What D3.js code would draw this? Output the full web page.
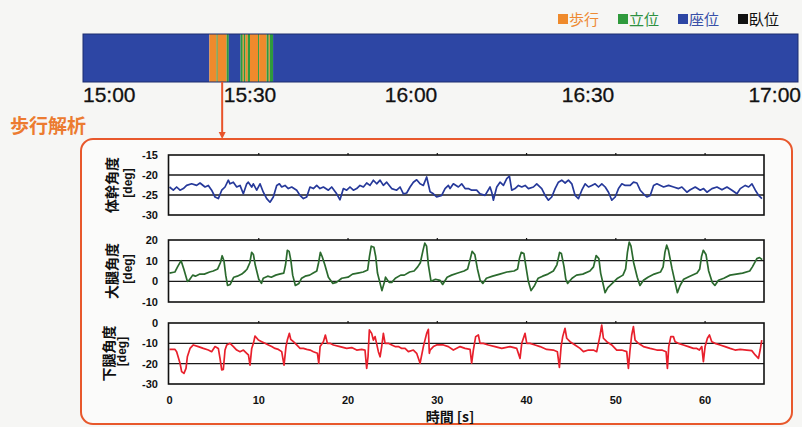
<!DOCTYPE html>
<html>
<head>
<meta charset="utf-8">
<script src="https://cdn.jsdelivr.net/npm/d3@7"></script>
<style>
html, body { margin:0; padding:0; background:#f6f6f4; }
svg { display:block; font-family:"Liberation Sans Narrow","Liberation Sans",sans-serif; }
.jp { font-family:"Noto Sans CJK JP", sans-serif; }
.deg { font-family:"Liberation Sans", sans-serif; }
</style>
</head>
<body>
<svg id="cnv" width="802" height="427"></svg>
<script>
// activity states (legend order)
var stateNames = ["歩行", "立位", "座位", "臥位"];
var stateColors = ["#ef8a2c", "#2f9a3c", "#2d46a4", "#111111"];
var stateTextColors = ["#ee8a33", "#2d9140", "#3850a8", "#111111"];

// timeline: minutes after 15:00
var timeTickLabels = ["15:00", "15:30", "16:00", "16:30", "17:00"];
var timeTickMin = [0, 30, 60, 90, 120];
var segStart = [0, 22.7, 24.0, 24.2, 25.8, 26.2, 28.3, 28.7, 28.9, 29.2, 29.6, 30.0, 31.5, 31.7, 33.1, 33.5, 33.7, 34.3];
var segState = [2, 0, 1, 0, 1, 2, 1, 0, 1, 0, 1, 0, 1, 0, 1, 0, 1, 2];
var segEndMin = 120;
var analysedMin = 25;

// gait analysis: [time s, angle deg]
var trunkAngle = [[0,-23.0],[0.43,-23.8],[0.80,-23.0],[1.18,-23.8],[1.55,-23.4],[1.92,-22.6],[2.48,-22.2],[3.04,-22.6],[3.42,-22.0],[3.98,-23.0],
	[4.35,-22.6],[4.72,-23.8],[5.10,-25.5],[5.47,-25.9],[5.85,-23.8],[6.22,-23.0],[6.59,-21.3],[6.78,-22.2],[7.15,-21.8],[7.53,-23.0],
	[7.90,-22.6],[8.27,-24.7],[8.65,-22.2],[8.83,-21.8],[9.21,-23.0],[9.39,-22.2],[9.77,-23.8],[10.14,-22.2],[10.51,-24.3],[10.89,-25.9],
	[11.26,-26.8],[11.63,-25.5],[12.01,-22.6],[12.31,-22.2],[12.57,-23.0],[12.94,-22.6],[13.31,-23.4],[13.69,-23.0],[14.25,-23.8],[14.62,-25.1],
	[15.00,-25.9],[15.37,-25.5],[15.74,-23.0],[16.12,-23.4],[16.49,-22.6],[16.86,-23.4],[17.24,-23.0],[17.80,-23.8],[18.17,-23.0],[18.73,-24.7],
	[19.10,-26.2],[19.48,-23.4],[19.85,-23.8],[20.22,-23.0],[20.60,-23.8],[20.97,-23.4],[21.34,-22.6],[21.72,-23.0],[22.09,-22.0],[22.46,-22.6],
	[22.84,-21.3],[23.21,-22.2],[23.59,-21.3],[23.96,-22.6],[24.33,-21.8],[24.89,-23.4],[25.45,-23.8],[25.83,-23.0],[26.20,-24.7],[26.57,-24.5],
	[26.95,-23.0],[27.32,-21.8],[27.69,-21.2],[28.07,-22.2],[28.44,-22.6],[28.81,-20.5],[29.19,-24.2],[29.56,-24.7],[29.93,-25.5],[30.49,-25.1],
	[30.87,-23.4],[31.24,-22.6],[31.43,-23.4],[31.80,-22.2],[32.36,-23.0],[32.73,-22.2],[33.11,-23.4],[33.48,-23.4],[33.85,-23.8],[34.41,-23.8],
	[34.79,-24.7],[35.35,-25.1],[35.91,-23.0],[36.10,-24.3],[36.28,-26.3],[36.66,-23.0],[37.03,-21.8],[37.41,-22.6],[37.78,-20.9],[38.08,-20.3],
	[38.34,-23.8],[38.71,-23.4],[39.09,-22.6],[39.46,-23.0],[39.84,-22.6],[40.21,-23.4],[40.77,-23.0],[41.14,-22.2],[41.70,-23.4],[42.08,-25.1],
	[42.45,-26.3],[42.82,-25.5],[43.20,-23.4],[43.57,-21.8],[43.94,-21.3],[44.32,-22.0],[44.69,-21.3],[45.07,-22.2],[45.44,-25.1],[45.81,-25.9],
	[46.19,-23.8],[46.56,-22.2],[46.94,-23.0],[47.31,-22.6],[47.68,-22.2],[48.06,-23.0],[48.43,-22.2],[48.81,-23.0],[49.18,-24.3],[49.55,-26.3],
	[49.93,-25.5],[50.30,-23.4],[50.68,-22.2],[51.05,-22.6],[51.61,-22.6],[51.98,-21.8],[52.36,-22.0],[52.73,-23.8],[53.10,-24.7],[53.48,-25.5],
	[53.85,-25.1],[54.23,-22.6],[54.60,-22.2],[55.35,-23.0],[55.91,-22.6],[56.47,-23.0],[57.03,-23.4],[57.40,-23.0],[57.96,-24.3],[58.34,-23.7],
	[58.90,-23.0],[59.46,-23.8],[59.83,-23.4],[60.21,-24.3],[60.77,-23.4],[61.33,-23.0],[61.89,-23.7],[62.45,-23.0],[63.01,-23.8],[63.57,-24.7],
	[63.94,-23.4],[64.50,-22.6],[64.88,-23.0],[65.25,-22.2],[65.63,-23.8],[66.00,-25.1],[66.37,-25.9]];

var thighAngle = [[0,4],[0.6,4.5],[0.9,7],[1.3,10],[1.6,6],[2.0,0],[2.2,0.5],[2.6,3],[2.9,2.5],[3.4,3.5],[3.9,3.5],[4.5,4.5],[4.9,5],
	[5.4,6],[5.7,9],[5.9,12.4],[6.1,10],[6.3,3],[6.5,-2],[6.8,-1.5],[7.2,2],[7.6,2.5],[8.1,3.5],[8.5,5],[8.7,6],[9.0,9],[9.2,14],
	[9.4,13],[9.6,8],[10.0,1],[10.3,-1],[10.5,1.5],[11.0,2.5],[11.4,2],[11.9,3],[12.3,3.5],[12.8,4],[13.0,8],[13.2,15],[13.4,14.5],
	[13.6,10],[13.8,3],[14.1,-2],[14.5,-1],[14.8,1.5],[15.2,2.5],[15.7,3],[16.1,4],[16.5,5],[16.7,9],[16.9,14],[17.1,12],[17.4,8],
	[17.8,2],[18.3,-1],[18.7,-0.5],[19.3,1.5],[20.0,2],[20.5,3.5],[21.1,4],[21.7,4.5],[22.2,5.5],[22.4,12],[22.6,17],[22.9,16.5],
	[23.1,12],[23.3,4],[23.8,-4.5],[24.1,0],[24.2,2],[24.6,-0.5],[24.9,-0.5],[25.3,1.5],[25.9,3],[26.3,3],[26.9,4.5],[27.4,5],
	[27.8,7],[28.1,9],[28.4,15],[28.6,18.5],[28.8,17],[29.0,8],[29.3,0],[29.8,1],[30.3,0.5],[30.6,-1.5],[31.1,2],[31.6,3],[32.3,4],
	[33.0,5],[33.4,6],[33.7,11],[33.9,14.5],[34.2,13],[34.5,6],[34.8,0.5],[35.1,-1],[35.5,1.5],[36.2,2.5],[37.0,3.5],[37.8,4.5],
	[38.6,5],[39.0,6],[39.2,11],[39.4,14],[39.7,13.5],[39.9,8],[40.2,0],[40.5,-4.5],[40.9,-2],[41.3,1.5],[41.8,2.5],[42.4,3.5],
	[43.0,5],[43.4,8],[43.7,14],[43.9,13.5],[44.2,7],[44.4,1],[44.6,-1],[45.1,1.5],[45.6,3],[46.3,3.5],[47.1,5],[47.5,7],[47.8,12.5],
	[48.1,11],[48.3,4],[48.8,-5.5],[49.1,-3],[49.6,-1],[50.2,1.5],[50.8,3],[51.1,6],[51.3,14],[51.5,19],[51.7,17],[52.0,9],[52.4,2],
	[52.7,-2],[53.1,0.5],[53.6,2],[54.3,3.5],[55.0,4.5],[55.3,7],[55.5,14],[55.7,17.5],[55.9,15],[56.3,6],[56.9,-5.5],[57.2,-2],
	[57.6,1],[58.3,2.5],[59.1,4],[59.4,6],[59.6,12],[59.8,15],[60.1,13],[60.4,5],[60.8,-0.5],[61.1,-2],[61.5,0.5],[62.1,1.5],
	[62.8,3],[63.5,3.5],[64.2,4],[65.0,5],[65.3,7],[65.8,11],[66.1,11.5],[66.4,10.5]];

var shankAngle = [[0,-13.0],[0.62,-13.0],[0.80,-14.1],[1.18,-19.8],[1.36,-23.9],[1.62,-24.8],[1.85,-22.3],[2.00,-16.6],[2.30,-12.5],[2.67,-10.8],
	[3.23,-11.6],[3.79,-12.5],[4.35,-13.3],[4.72,-14.1],[5.10,-11.6],[5.47,-12.5],[5.66,-17.4],[5.85,-23.1],[6.03,-22.8],[6.22,-13.3],
	[6.41,-10.8],[6.78,-10.0],[7.16,-11.6],[7.53,-13.3],[7.90,-14.1],[8.28,-13.3],[8.65,-14.9],[8.84,-15.7],[9.02,-20.7],[9.21,-12.5],
	[9.40,-10.0],[9.58,-6.4],[9.96,-8.4],[10.33,-9.2],[10.70,-10.0],[11.08,-10.8],[11.45,-11.6],[11.82,-12.5],[12.20,-13.0],[12.57,-14.1],
	[12.83,-20.7],[13.05,-11.6],[13.20,-8.4],[13.43,-5.1],[13.58,-8.0],[13.88,-9.2],[14.25,-10.8],[14.63,-12.5],[15.00,-12.5],[15.37,-13.0],
	[15.75,-13.3],[16.12,-14.1],[16.57,-14.9],[16.72,-19.8],[16.87,-11.6],[17.24,-9.2],[17.46,-5.9],[17.69,-10.0],[17.98,-10.0],[18.36,-10.8],
	[19.10,-11.6],[19.85,-12.5],[20.41,-12.1],[20.97,-13.3],[21.53,-13.0],[21.90,-13.3],[22.09,-22.3],[22.24,-16.6],[22.39,-3.4],[22.65,-5.1],
	[22.84,-8.4],[23.03,-6.7],[23.40,-14.1],[23.59,-16.6],[23.77,-11.6],[23.96,-5.1],[24.15,-10.0],[24.52,-10.0],[24.90,-10.8],[25.27,-11.6],
	[25.64,-11.6],[26.02,-12.5],[26.39,-12.5],[26.76,-14.1],[27.32,-13.3],[27.69,-14.9],[28.07,-19.8],[28.44,-11.6],[28.81,-5.1],[29.00,-3.1],
	[29.11,-14.9],[29.19,-13.3],[29.56,-11.6],[29.93,-10.8],[30.68,-10.8],[31.24,-11.6],[31.80,-13.3],[32.55,-11.6],[33.11,-12.5],[33.67,-13.0],
	[33.85,-19.8],[34.04,-13.3],[34.30,-6.7],[34.60,-5.9],[34.79,-10.0],[35.16,-10.0],[35.72,-10.8],[36.47,-11.6],[37.22,-12.5],[38.15,-11.6],
	[38.90,-12.5],[39.27,-17.4],[39.46,-10.0],[39.83,-5.1],[40.02,-10.0],[40.39,-10.0],[40.95,-10.8],[41.51,-11.6],[42.26,-13.0],[43.00,-13.3],
	[43.45,-14.1],[43.68,-21.8],[43.87,-11.6],[44.05,-6.7],[44.31,-2.6],[44.50,-7.5],[44.87,-9.2],[45.43,-10.8],[45.99,-12.5],[46.37,-14.1],
	[46.93,-13.3],[47.49,-13.3],[47.86,-14.1],[48.05,-10.0],[48.24,-5.9],[48.42,-1.0],[48.61,-7.5],[48.99,-9.2],[49.54,-10.8],[50.10,-13.3],
	[50.66,-13.3],[51.22,-14.1],[51.41,-22.3],[51.59,-13.3],[51.78,-5.9],[51.97,-1.8],[52.16,-8.4],[52.53,-10.0],[53.09,-11.6],[53.84,-12.5],
	[54.59,-13.3],[55.15,-13.3],[55.63,-14.1],[55.78,-22.3],[55.93,-11.6],[56.16,-6.7],[56.45,-6.7],[56.64,-9.2],[57.01,-10.0],[57.57,-10.8],
	[58.13,-11.6],[58.69,-12.5],[59.07,-12.5],[59.36,-13.3],[59.63,-11.6],[59.81,-19.0],[60.00,-11.6],[60.26,-7.5],[60.49,-5.9],[60.75,-9.2],
	[61.12,-10.0],[61.68,-10.8],[62.24,-11.6],[62.80,-12.5],[63.36,-13.3],[63.93,-13.0],[64.67,-13.3],[65.23,-13.6],[65.61,-15.7],[65.98,-17.4],
	[66.17,-13.3],[66.35,-8.4]];

var xTicks = [0, 10, 20, 30, 40, 50, 60];
var xLabel = "時間 [s]";
var sectionTitle = "歩行解析";

var panels = [
	{data: trunkAngle, name: "体幹角度", domain: [-30, -15], ticks: [-15, -20, -25, -30], grid: [-20, -25], color: "#26399a", top: 155, bottom: 215},
	{data: thighAngle, name: "大腿角度", domain: [-10, 20], ticks: [20, 10, 0, -10], grid: [10, 0], color: "#2b6a2e", top: 240, bottom: 302},
	{data: shankAngle, name: "下腿角度", domain: [-30, 0], ticks: [0, -10, -20, -30], grid: [-10, -20], color: "#e8202c", top: 323, bottom: 384}
];

var svg = d3.select("#cnv");

// legend
var legend = svg.selectAll("g.leg")
	.data(stateNames)
	.enter()
	.append("g")
	.attr("class", "leg")
	.attr("transform", function (d, i) { return "translate(" + (558 + i * 60) + ",0)"; });
legend.append("rect")
	.attr("x", 0).attr("y", 14).attr("width", 10).attr("height", 10)
	.attr("fill", function (d, i) { return stateColors[i]; });
legend.append("text")
	.attr("class", "jp")
	.attr("x", 11).attr("y", 25)
	.attr("font-size", "15px")
	.attr("fill", function (d, i) { return stateTextColors[i]; })
	.text(function (d) { return d; });

// timeline bar
var tx = d3.scaleLinear().domain(timeTickMin).range([83, 250, 411, 588, 798]);
var segs = segStart.map(function (s, i) {
	return {from: s, to: (i < segStart.length - 1 ? segStart[i + 1] : segEndMin), state: segState[i]};
});
svg.selectAll("rect.seg")
	.data(segs)
	.enter()
	.append("rect")
	.attr("class", "seg")
	.attr("x", function (d) { return tx(d.from); })
	.attr("y", 34)
	.attr("width", function (d) { return tx(d.to) - tx(d.from); })
	.attr("height", 48)
	.attr("fill", function (d) { return stateColors[d.state]; });
svg.append("rect")
	.attr("x", tx(0)).attr("y", 34)
	.attr("width", tx(segEndMin) - tx(0)).attr("height", 48)
	.attr("fill", "none").attr("stroke", "#1d2c6e").attr("stroke-width", 1);

svg.selectAll("text.tt")
	.data(timeTickLabels)
	.enter()
	.append("text")
	.attr("class", "tt")
	.attr("x", function (d, i) { return i === timeTickLabels.length - 1 ? tx(timeTickMin[i]) + 3 : tx(timeTickMin[i]); })
	.attr("y", 102)
	.attr("text-anchor", function (d, i) { return i === 0 ? "start" : (i === timeTickLabels.length - 1 ? "end" : "middle"); })
	.attr("font-size", "21px")
	.attr("fill", "#111")
	.attr("stroke", "#111").attr("stroke-width", 0.3)
	.text(function (d) { return d; });

// section title + arrow + frame
svg.append("text")
	.attr("class", "jp")
	.attr("x", 10).attr("y", 133)
	.attr("font-size", "19px").attr("font-weight", "bold")
	.attr("fill", "#ec7b30")
	.text(sectionTitle);

var ax = tx(analysedMin);
svg.append("line")
	.attr("x1", ax).attr("x2", ax).attr("y1", 82).attr("y2", 134)
	.attr("stroke", "#e8532a").attr("stroke-width", 2);
svg.append("path")
	.attr("d", "M" + (ax - 3.5) + ",132 L" + (ax + 3.5) + ",132 L" + ax + ",139 Z")
	.attr("fill", "#e8532a");

svg.append("rect")
	.attr("x", 81).attr("y", 139).attr("width", 711).attr("height", 285)
	.attr("rx", 12).attr("ry", 12)
	.attr("fill", "#fbfbfa").attr("stroke", "#e8582c").attr("stroke-width", 2);

// panels
var x = d3.scaleLinear().domain([0, 66.6]).range([169.5, 764]);

panels.forEach(function (p, k) {
	var y = d3.scaleLinear().domain(p.domain).range([p.bottom, p.top]);
	var g = svg.append("g");

	g.append("rect")
		.attr("x", x(0) - 1).attr("y", p.top)
		.attr("width", x.range()[1] - x(0) + 1).attr("height", p.bottom - p.top)
		.attr("fill", "#ffffff");

	g.selectAll("line.grid")
		.data(p.grid)
		.enter()
		.append("line")
		.attr("x1", x(0) - 1).attr("x2", x.range()[1])
		.attr("y1", function (d) { return y(d); }).attr("y2", function (d) { return y(d); })
		.attr("stroke", "#1a1a1a").attr("stroke-width", 1.3);

	var line = d3.line()
		.x(function (d) { return x(d[0]); })
		.y(function (d) { return y(d[1]); });
	g.append("path")
		.datum(p.data)
		.attr("d", line)
		.attr("fill", "none")
		.attr("stroke", p.color)
		.attr("stroke-width", 1.7)
		.attr("stroke-linejoin", "round");

	g.append("rect")
		.attr("x", x(0) - 1).attr("y", p.top)
		.attr("width", x.range()[1] - x(0) + 1).attr("height", p.bottom - p.top)
		.attr("fill", "none").attr("stroke", "#111").attr("stroke-width", 1.6);

	// small ticks on the top edge
	g.selectAll("line.xt")
		.data(xTicks.slice(1))
		.enter()
		.append("line")
		.attr("x1", function (d) { return x(d); }).attr("x2", function (d) { return x(d); })
		.attr("y1", p.top).attr("y2", p.top - 2)
		.attr("stroke", "#111").attr("stroke-width", 1.2);

	g.selectAll("text.yt")
		.data(p.ticks)
		.enter()
		.append("text")
		.attr("x", 158)
		.attr("y", function (d) { return y(d) + 4; })
		.attr("text-anchor", "end")
		.attr("font-size", "11px").attr("font-weight", "bold")
		.attr("fill", "#111")
		.text(function (d) { return d; });

	var cy = (p.top + p.bottom) / 2;
	g.append("text")
		.attr("class", "jp")
		.attr("transform", "translate(" + (k === 2 ? 114 : 117) + "," + cy + ") rotate(-90)")
		.attr("text-anchor", "middle")
		.attr("font-size", "14px").attr("font-weight", "bold")
		.attr("fill", "#111")
		.text(p.name);
	g.append("text")
		.attr("class", "deg")
		.attr("transform", "translate(" + (k === 2 ? 126 : 132) + "," + (cy - 2) + ") rotate(-90)")
		.attr("text-anchor", "middle")
		.attr("font-size", "12px").attr("font-weight", "bold")
		.attr("fill", "#111")
		.text("[deg]");

	if (k === panels.length - 1) {
		g.selectAll("text.xl")
			.data(xTicks)
			.enter()
			.append("text")
			.attr("x", function (d) { return x(d); })
			.attr("y", p.bottom + 20)
			.attr("text-anchor", "middle")
			.attr("font-size", "11px").attr("font-weight", "bold")
			.attr("fill", "#111")
			.text(function (d) { return d; });
		g.append("text")
			.attr("class", "jp")
			.attr("x", 450).attr("y", p.bottom + 38)
			.attr("text-anchor", "middle")
			.attr("font-size", "14px").attr("font-weight", "bold")
			.attr("fill", "#111")
			.text(xLabel);
	}
});
</script>
</body>
</html>
